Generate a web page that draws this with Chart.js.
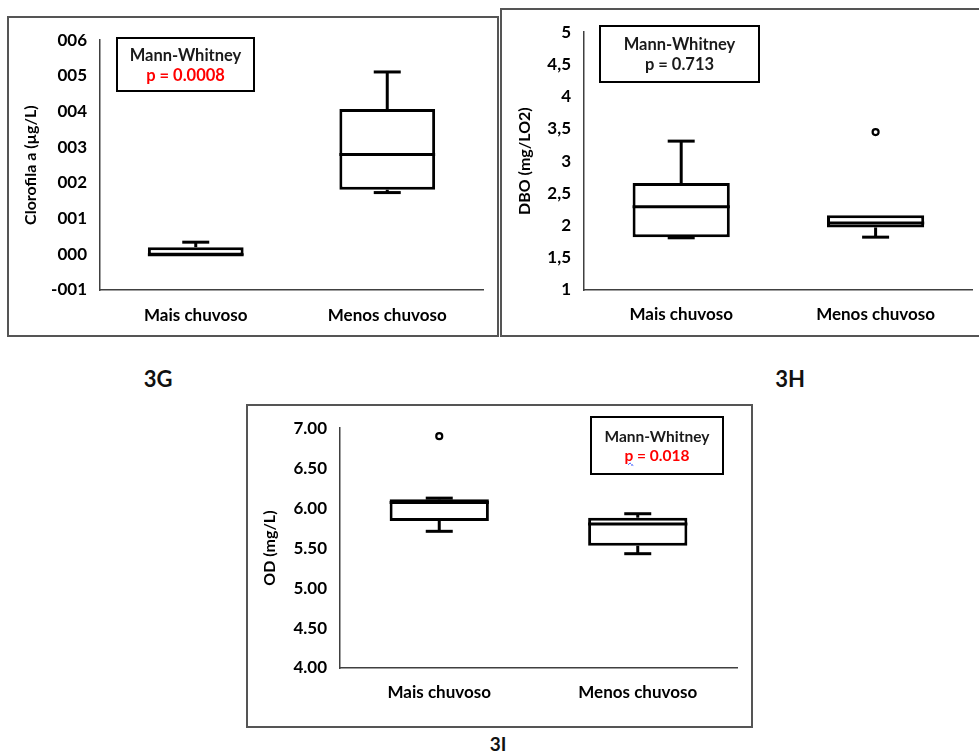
<!DOCTYPE html>
<html>
<head>
<meta charset="utf-8">
<script src="https://cdn.jsdelivr.net/npm/chart.js@4.4.1/dist/chart.umd.min.js"></script>
<style>
  html, body { margin: 0; padding: 0; background: #fff; }
  body { width: 979px; height: 751px; position: relative; overflow: hidden; font-family: Lato, "Open Sans", sans-serif; }
  canvas { position: absolute; }
  .frame { position: absolute; box-sizing: border-box; border: 2px solid #555; pointer-events: none; }
  .mw { position: absolute; box-sizing: border-box; border: 2px solid #000; display: flex; flex-direction: column;
        justify-content: center; align-items: center; font-weight: 700; color: #1a1a1a; }
  .red { color: #ff0000; }
  .spell { text-decoration: underline wavy #2b4dff; text-decoration-thickness: 1px; }
  .panel { position: absolute; font-weight: 700; color: #111; transform: translate(-50%, -50%); }
</style>
</head>
<body>

<canvas id="chartG" width="490" height="319" style="left:8px;top:17px"></canvas>
<div class="frame" style="left:7px;top:16px;width:492px;height:321px"></div>
<div class="mw" style="left:116px;top:37px;width:139px;height:55px;font-size:16.5px;line-height:20px">
  <div>Mann-Whitney</div><div class="red">p = 0.0008</div>
</div>
<div class="panel" style="left:158px;top:378px;font-size:22px">3G</div>

<canvas id="chartH" width="478" height="327" style="left:501px;top:9px"></canvas>
<div class="frame" style="left:500px;top:8px;width:490px;height:329px"></div>
<div class="mw" style="left:599px;top:25px;width:161px;height:58px;font-size:16.5px;line-height:20px">
  <div>Mann-Whitney</div><div>p = 0.713</div>
</div>
<div class="panel" style="left:790px;top:378px;font-size:22px">3H</div>

<canvas id="chartI" width="505" height="322" style="left:247px;top:405px"></canvas>
<div class="frame" style="left:246px;top:404px;width:507px;height:324px"></div>
<div class="mw" style="left:590px;top:416px;width:134px;height:59px;font-size:15.5px;line-height:19px">
  <div>Mann-Whitney</div><div class="red"><span class="spell">p</span> = 0.018</div>
</div>
<div class="panel" style="left:498px;top:743px;font-size:19px">3I</div>

<script>
const categories = ['Mais chuvoso', 'Menos chuvoso'];

// 3G – Clorofila a (µg/L)
const clorofilaMin = [-0.03, 1.73];
const clorofilaQ1 = [-0.03, 1.81];
const clorofilaMedian = [-0.01, 2.80];
const clorofilaQ3 = [0.20, 4.07];
const clorofilaMax = [0.34, 5.11];
const clorofilaOutlier = [null, null];
const clorofilaTickValues = [-1, 0, 1, 2, 3, 4, 5, 6];
const clorofilaTickLabels = ['-001', '000', '001', '002', '003', '004', '005', '006'];

// 3H – DBO (mg/LO2)
const dboMin = [1.81, 1.82];
const dboQ1 = [1.82, 1.97];
const dboMedian = [2.29, 2.04];
const dboQ3 = [2.66, 2.16];
const dboMax = [3.31, 2.16];
const dboOutlier = [null, 3.45];
const dboTickValues = [1, 1.5, 2, 2.5, 3, 3.5, 4, 4.5, 5];
const dboTickLabels = ['1', '1,5', '2', '2,5', '3', '3,5', '4', '4,5', '5'];

// 3I – OD (mg/L)
const odMin = [5.71, 5.43];
const odQ1 = [5.84, 5.53];
const odMedian = [6.07, 5.80];
const odQ3 = [6.11, 5.88];
const odMax = [6.125, 5.93];
const odOutlier = [6.90, null];
const odTickValues = [4, 4.5, 5, 5.5, 6, 6.5, 7];
const odTickLabels = ['4.00', '4.50', '5.00', '5.50', '6.00', '6.50', '7.00'];

Chart.defaults.font.family = "Lato, 'Open Sans', sans-serif";
Chart.defaults.color = '#000';

const AXIS_COLOR = '#404040';
const CAP_WIDTH = 27;

// whiskers behind the box, median line on top of it
function whiskerPlugin(s) {
  const line = (ctx, x1, y1, x2, y2) => { ctx.beginPath(); ctx.moveTo(x1, y1); ctx.lineTo(x2, y2); ctx.stroke(); };
  return {
    id: 'boxWhiskers',
    beforeDatasetsDraw(chart) {
      const { ctx, scales: { y } } = chart;
      const bars = chart.getDatasetMeta(0).data;
      ctx.save();
      ctx.strokeStyle = '#000';
      ctx.lineWidth = 3;
      bars.forEach((bar, i) => {
        const cx = bar.x;
        const yQ1 = y.getPixelForValue(s.q1[i]);
        const yQ3 = y.getPixelForValue(s.q3[i]);
        if (s.max[i] > s.q3[i]) {
          const yMax = y.getPixelForValue(s.max[i]);
          line(ctx, cx, yQ3, cx, yMax);
          line(ctx, cx - CAP_WIDTH / 2, yMax, cx + CAP_WIDTH / 2, yMax);
        }
        if (s.min[i] < s.q1[i]) {
          const yMin = y.getPixelForValue(s.min[i]);
          line(ctx, cx, yQ1, cx, yMin);
          line(ctx, cx - CAP_WIDTH / 2, yMin, cx + CAP_WIDTH / 2, yMin);
        }
      });
      ctx.restore();
    },
    afterDatasetsDraw(chart) {
      const { ctx, scales: { y } } = chart;
      const bars = chart.getDatasetMeta(0).data;
      ctx.save();
      ctx.strokeStyle = '#000';
      ctx.lineWidth = 3;
      bars.forEach((bar, i) => {
        const yMed = y.getPixelForValue(s.median[i]);
        line(ctx, bar.x - bar.width / 2, yMed, bar.x + bar.width / 2, yMed);
      });
      ctx.restore();
    }
  };
}

function boxChart(id, s, geo) {
  return new Chart(document.getElementById(id), {
    type: 'bar',
    data: {
      labels: categories,
      datasets: [
        {
          type: 'bar',
          data: s.q1.map((v, i) => [v, s.q3[i]]),
          backgroundColor: '#fff',
          borderColor: '#000',
          borderWidth: 3,
          borderSkipped: false,
          barPercentage: 0.5,
          categoryPercentage: 1,
          order: 2
        },
        {
          type: 'line',
          data: s.outlier,
          showLine: false,
          pointRadius: 3,
          pointBorderWidth: 2.2,
          pointBorderColor: '#000',
          pointBackgroundColor: '#fff',
          order: 1
        }
      ]
    },
    options: {
      responsive: false,
      animation: false,
      events: [],
      layout: { padding: { left: 0, right: geo.right, top: geo.top, bottom: 0 } },
      plugins: { legend: { display: false }, tooltip: { enabled: false } },
      scales: {
        x: {
          grid: { display: false, drawTicks: false },
          border: { display: true, color: AXIS_COLOR, width: 1.5 },
          ticks: { padding: geo.xPad, color: '#000', font: { size: 17, weight: 'bold' } },
          afterFit: sc => { sc.height = geo.xH; }
        },
        y: {
          min: s.tickValues[0],
          max: s.tickValues[s.tickValues.length - 1],
          grid: { display: false, drawTicks: false },
          border: { display: true, color: AXIS_COLOR, width: 1.5 },
          afterBuildTicks: sc => { sc.ticks = s.tickValues.map(v => ({ value: v })); },
          ticks: {
            padding: 13,
            color: '#000',
            font: { size: 17, weight: 'bold' },
            callback: (v, i) => s.tickLabels[i]
          },
          afterFit: sc => { sc.width = geo.yW; },
          title: {
            display: true,
            text: s.title,
            color: '#000',
            font: { size: 16, weight: 'bold' },
            padding: { top: geo.tPad, bottom: 0 }
          }
        }
      }
    },
    plugins: [whiskerPlugin(s)]
  });
}

boxChart('chartG', {
  title: 'Clorofila a (µg/L)',
  min: clorofilaMin, q1: clorofilaQ1, median: clorofilaMedian, q3: clorofilaQ3, max: clorofilaMax,
  outlier: clorofilaOutlier, tickValues: clorofilaTickValues, tickLabels: clorofilaTickLabels
}, { yW: 92, xH: 46, right: 15, top: 22, xPad: 15, tPad: 13 });

boxChart('chartH', {
  title: 'DBO (mg/LO2)',
  min: dboMin, q1: dboQ1, median: dboMedian, q3: dboQ3, max: dboMax,
  outlier: dboOutlier, tickValues: dboTickValues, tickLabels: dboTickLabels
}, { yW: 83, xH: 46, right: 2, top: 23, xPad: 14, tPad: 14 });

boxChart('chartI', {
  title: 'OD (mg/L)',
  min: odMin, q1: odQ1, median: odMedian, q3: odQ3, max: odMax,
  outlier: odOutlier, tickValues: odTickValues, tickLabels: odTickLabels
}, { yW: 93, xH: 59, right: 15, top: 22, xPad: 14, tPad: 13 });
</script>
</body>
</html>
